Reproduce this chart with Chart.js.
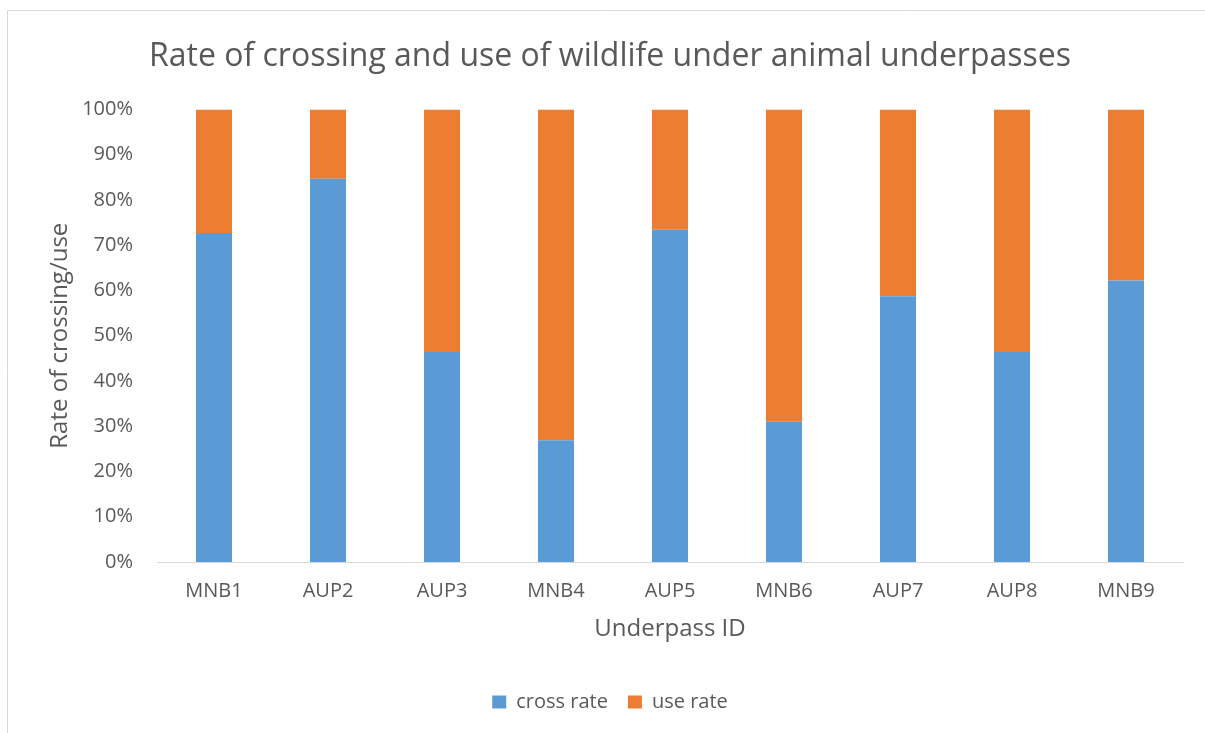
<!DOCTYPE html>
<html>
<head>
<meta charset="utf-8">
<script src="https://cdn.jsdelivr.net/npm/chart.js@4"></script>
<style>
  html, body { margin: 0; padding: 0; background: #fff; }
  canvas { display: block; }
</style>
</head>
<body>
<canvas id="underpassChart" width="1205" height="733"></canvas>
<script>
const underpassIds = ['MNB1', 'AUP2', 'AUP3', 'MNB4', 'AUP5', 'MNB6', 'AUP7', 'AUP8', 'MNB9'];
const crossRate = [72.7, 84.7, 46.4, 26.9, 73.4, 31.0, 58.7, 46.4, 62.2];
const useRate = [27.3, 15.3, 53.6, 73.1, 26.6, 69.0, 41.3, 53.6, 37.8];

const textColor = '#595959';
const fontFamily = '"Open Sans", "Noto Sans", sans-serif';

// white background plus the thin grey frame around the chart
const framePlugin = {
  id: 'frame',
  beforeDraw(chart) {
    const ctx = chart.ctx;
    ctx.save();
    ctx.fillStyle = '#ffffff';
    ctx.fillRect(0, 0, chart.width, chart.height);
    ctx.strokeStyle = '#d9d9d9';
    ctx.lineWidth = 1;
    ctx.beginPath();
    ctx.moveTo(7.5, chart.height);
    ctx.lineTo(7.5, 10.5);
    ctx.lineTo(chart.width, 10.5);
    ctx.stroke();
    ctx.restore();
  }
};

const data = {
  labels: underpassIds,
  datasets: [
    {
      label: 'cross rate',
      data: crossRate,
      backgroundColor: '#5b9bd5',
      borderWidth: 0
    },
    {
      label: 'use rate',
      data: useRate,
      backgroundColor: '#ed7d31',
      borderWidth: 0
    }
  ]
};

const config = {
  type: 'bar',
  data: data,
  plugins: [framePlugin],
  options: {
    responsive: false,
    animation: false,
    barPercentage: 0.316,
    categoryPercentage: 1,
    layout: {
      padding: { left: 37, right: 22, top: 0, bottom: 11 }
    },
    plugins: {
      title: {
        display: true,
        text: 'Rate of crossing and use of wildlife under animal underpasses',
        color: textColor,
        font: { family: fontFamily, size: 32, weight: 'normal' },
        padding: { top: 38, bottom: 33 }
      },
      legend: {
        position: 'bottom',
        labels: {
          color: textColor,
          font: { family: fontFamily, size: 20 },
          boxWidth: 14,
          boxHeight: 13,
          padding: 20
        }
      },
      tooltip: { enabled: false }
    },
    scales: {
      x: {
        stacked: true,
        grid: { display: false, drawTicks: false },
        border: { display: true, color: '#d9d9d9', width: 1 },
        ticks: {
          color: textColor,
          font: { family: fontFamily, size: 20 },
          padding: 17
        },
        title: {
          display: true,
          text: 'Underpass ID',
          color: textColor,
          font: { family: fontFamily, size: 24 },
          padding: { top: 0, bottom: 28 }
        },
        afterFit(scale) { scale.height = 110; }
      },
      y: {
        stacked: true,
        min: 0,
        max: 100,
        grid: { display: false, drawTicks: false },
        border: { display: false },
        ticks: {
          stepSize: 10,
          color: textColor,
          font: { family: fontFamily, size: 20 },
          padding: 24,
          callback: v => v + '%'
        },
        title: {
          display: true,
          text: 'Rate of crossing/use',
          color: textColor,
          font: { family: fontFamily, size: 24 },
          padding: { top: 9, bottom: 0 }
        },
        afterFit(scale) { scale.width = 120; }
      }
    }
  }
};

const ctx = document.getElementById('underpassChart').getContext('2d');
new Chart(ctx, config);
</script>
</body>
</html>
